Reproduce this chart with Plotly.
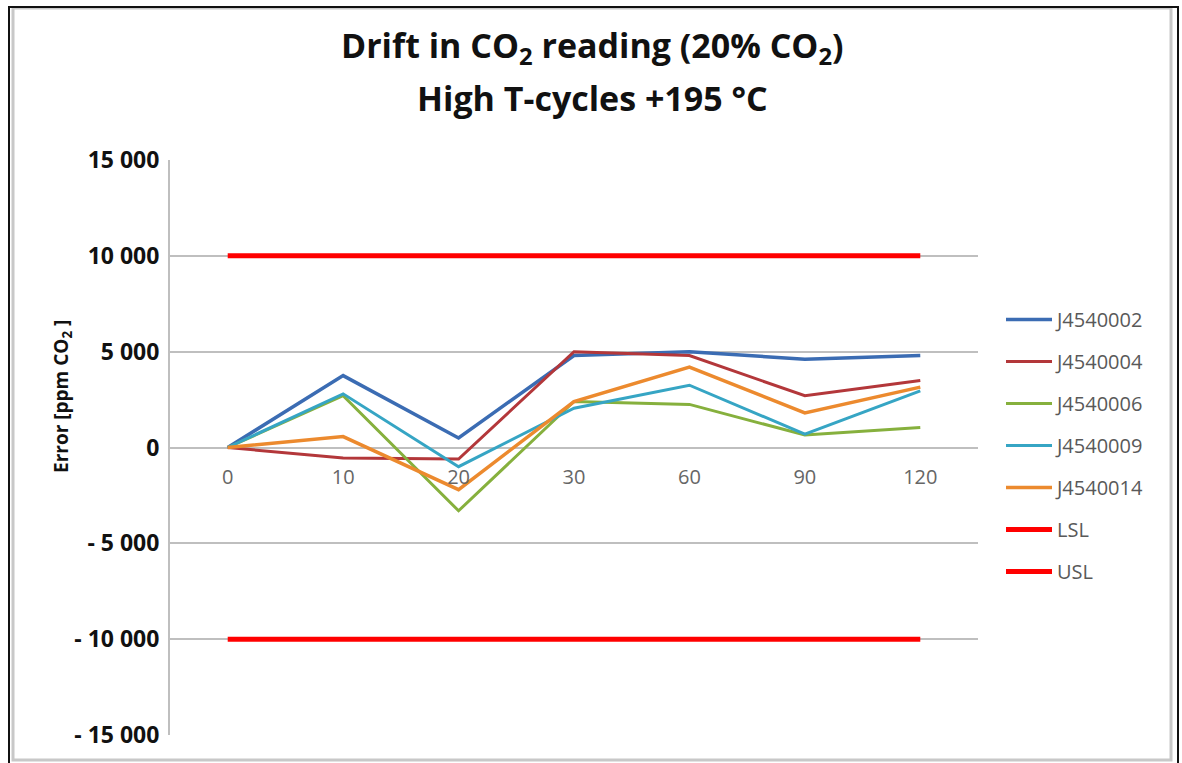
import plotly.graph_objects as go

categories = ["0", "10", "20", "30", "60", "90", "120"]
j4540002 = [0, 3750, 500, 4800, 5000, 4600, 4800]
j4540004 = [0, -550, -600, 5000, 4800, 2700, 3500]
j4540006 = [0, 2700, -3300, 2400, 2250, 650, 1050]
j4540009 = [0, 2800, -1000, 2050, 3250, 700, 2950]
j4540014 = [0, 570, -2200, 2400, 4200, 1800, 3150]
lsl = [-10000] * 7
usl = [10000] * 7
y_ticks = [-15000, -10000, -5000, 0, 5000, 10000, 15000]
y_tick_text = ["- 15 000", "- 10 000", "- 5 000", "0", "5 000", "10 000", "15 000"]

series = [
    ("J4540002", j4540002, "#3B6CB3", 3.5),
    ("J4540004", j4540004, "#B3373A", 3),
    ("J4540006", j4540006, "#86B03D", 3),
    ("J4540009", j4540009, "#36A5C4", 3),
    ("J4540014", j4540014, "#EC8A2E", 3.5),
    ("LSL", lsl, "#FF0000", 5),
    ("USL", usl, "#FF0000", 5),
]

W, H = 1182, 763
L, R, T, B = 170, 204, 160, 28
PW, PH = W - L - R, H - T - B


def px(x):
    return (x - L) / PW


def py(y):
    return (H - B - y) / PH


fig = go.Figure()
for name, vals, color, w in series:
    fig.add_trace(go.Scatter(x=categories, y=vals, mode="lines", name=name,
                             legendgroup=name,
                             line=dict(color=color, width=w)))

font = "'Open Sans', sans-serif"
fig.update_layout(
    width=W, height=H,
    paper_bgcolor="white", plot_bgcolor="white",
    margin=dict(l=L, r=R, t=T, b=B),
    legend=dict(x=px(1001), xanchor="left", y=py(300), yanchor="top",
                font=dict(family=font, size=20, color="#595959"),
                itemwidth=46,
                tracegroupgap=13, bgcolor="rgba(0,0,0,0)"),
    xaxis=dict(type="category", range=[-0.5, 6.5], anchor="free", position=0.5,
               showgrid=False, showline=False, zeroline=False, ticks="",
               tickfont=dict(family=font, size=20, color="#666666"),
               ticklabelstandoff=15),
    yaxis=dict(range=[-15000, 15000], tickvals=y_ticks, ticktext=y_tick_text,
               showgrid=True, gridcolor="#BFBFBF", gridwidth=2,
               zeroline=True, zerolinecolor="#BFBFBF", zerolinewidth=2,
               showline=True, linecolor="#BFBFBF", linewidth=2,
               tickfont=dict(family=font, size=23, color="#111111", weight="bold"),
               ticklabelstandoff=4),
    annotations=[
        dict(text="<b>Drift in CO<sub>2</sub> reading (20% CO<sub>2</sub>)</b>",
             xref="paper", yref="paper", x=px(592), y=py(47), xanchor="center", yanchor="middle",
             showarrow=False, font=dict(family=font, size=34, color="#111111")),
        dict(text="<b>High T-cycles +195 °C</b>",
             xref="paper", yref="paper", x=px(592), y=py(98), xanchor="center", yanchor="middle",
             showarrow=False, font=dict(family=font, size=34, color="#111111")),
        dict(text="<b>Error [ppm CO<sub>2</sub> ]</b>", textangle=-90,
             xref="paper", yref="paper", x=px(62), y=py(397), xanchor="center", yanchor="middle",
             showarrow=False, font=dict(family=font, size=19, color="#111111")),
    ],
    shapes=[
        dict(type="rect", xref="paper", yref="paper",
             x0=px(13), x1=px(1171), y0=py(760), y1=py(8),
             line=dict(color="#C8C8C8", width=3)),
        dict(type="rect", xref="paper", yref="paper",
             x0=px(9), x1=px(1178), y0=py(764), y1=py(7),
             line=dict(color="#111111", width=2)),
    ],
)
fig.write_html("out.html", config={"displayModeBar": False},
               post_script="document.body.style.margin='0';document.body.style.overflow='hidden';")
